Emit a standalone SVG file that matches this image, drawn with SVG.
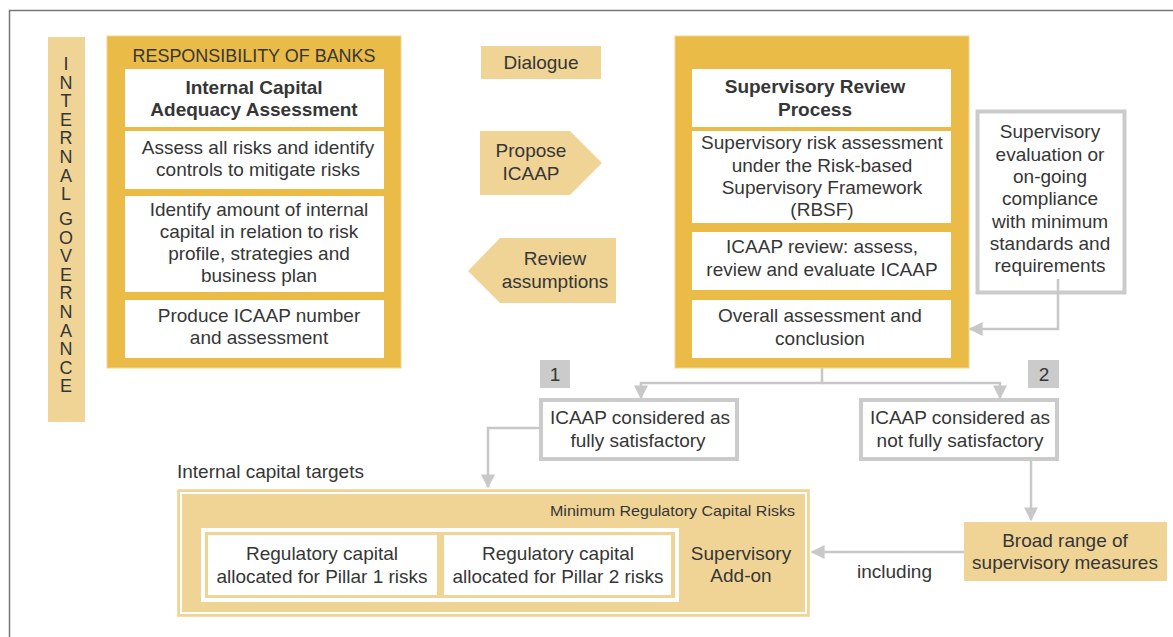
<svg xmlns="http://www.w3.org/2000/svg" width="1173" height="637" viewBox="0 0 1173 637">
<defs>
<style>
text{font-family:"Liberation Sans",Arial,sans-serif;fill:#363636;font-size:19px}
.c{text-anchor:middle}
.b{font-weight:bold}
.vert{writing-mode:vertical-rl;text-orientation:upright;font-size:18px;letter-spacing:-1.4px}
.gold{fill:#EBBB48;stroke:#F3D58E;stroke-width:1}
.light{fill:#EFD496}
.white{fill:#fff}
.gbox{fill:#fff;stroke:#CBCBCB;stroke-width:4}
.badge{fill:#CBCBCB}
.con{fill:none;stroke:#C8C8C8;stroke-width:2.5}
.small{font-size:15px}
</style>
<marker id="ah" viewBox="0 0 10 10" refX="9" refY="5" markerWidth="14" markerHeight="14" markerUnits="userSpaceOnUse" orient="auto">
<path d="M0,0 L10,5 L0,10 z" fill="#C8C8C8"/>
</marker>
</defs>
<rect width="1173" height="637" fill="#fff"/>
<path d="M9.5,637 V10.5 H1173" fill="none" stroke="#777" stroke-width="1.5"/>

<g id="internal-governance">
<rect x="48" y="37" width="37" height="385" class="light"/>
<text class="vert" x="66" y="54">INTERNAL</text>
<text class="vert" x="66" y="209">GOVERNANCE</text>
</g>

<g id="responsibility-of-banks">
<rect x="107" y="36" width="294" height="332" class="gold"/>
<text x="254" y="62" class="c" font-size="18" textLength="243" lengthAdjust="spacingAndGlyphs">RESPONSIBILITY OF BANKS</text>
<rect x="125" y="69" width="259" height="58" class="white"/>
<text x="254" y="94" class="c b">Internal Capital</text>
<text x="254" y="116" class="c b">Adequacy Assessment</text>
<rect x="125" y="131" width="259" height="58" class="white"/>
<text x="258" y="154" class="c">Assess all risks and identify</text>
<text x="258" y="176" class="c">controls to mitigate risks</text>
<rect x="125" y="196" width="259" height="96" class="white"/>
<text x="259" y="216" class="c">Identify amount of internal</text>
<text x="259" y="238" class="c">capital in relation to risk</text>
<text x="259" y="260" class="c">profile, strategies and</text>
<text x="259" y="282" class="c">business plan</text>
<rect x="125" y="300" width="259" height="58" class="white"/>
<text x="259" y="322" class="c">Produce ICAAP number</text>
<text x="259" y="344" class="c">and assessment</text>
</g>

<g id="dialogue">
<rect x="481" y="46" width="120" height="33" class="light"/>
<text x="541" y="69" class="c">Dialogue</text>
</g>

<g id="propose-icaap">
<path d="M480,131 H570 L602,163 L570,195 H480 Z" class="light"/>
<text x="531" y="157" class="c">Propose</text>
<text x="531" y="180" class="c">ICAAP</text>
</g>

<g id="review-assumptions">
<path d="M616,238 H500 L468,271 L500,303 H616 Z" class="light"/>
<text x="555" y="265" class="c">Review</text>
<text x="555" y="288" class="c">assumptions</text>
</g>

<g id="supervisory-review-process">
<rect x="675" y="36" width="294" height="332" class="gold"/>
<rect x="692" y="69" width="259" height="58" class="white"/>
<text x="815" y="93" class="c b">Supervisory Review</text>
<text x="815" y="116" class="c b">Process</text>
<rect x="692" y="131" width="259" height="92" class="white"/>
<text x="822" y="149" class="c">Supervisory risk assessment</text>
<text x="822" y="172" class="c">under the Risk-based</text>
<text x="822" y="194" class="c">Supervisory Framework</text>
<text x="822" y="216" class="c">(RBSF)</text>
<rect x="692" y="232" width="259" height="58" class="white"/>
<text x="822" y="253" class="c">ICAAP review: assess,</text>
<text x="822" y="276" class="c">review and evaluate ICAAP</text>
<rect x="692" y="300" width="259" height="58" class="white"/>
<text x="820" y="322" class="c">Overall assessment and</text>
<text x="820" y="345" class="c">conclusion</text>
</g>

<g id="supervisory-evaluation">
<rect x="977.5" y="111.5" width="147" height="181" class="gbox" stroke-width="3"/>
<text x="1050" y="138" class="c">Supervisory</text>
<text x="1050" y="161" class="c">evaluation or</text>
<text x="1050" y="183" class="c">on-going</text>
<text x="1050" y="205" class="c">compliance</text>
<text x="1050" y="228" class="c">with minimum</text>
<text x="1050" y="250" class="c">standards and</text>
<text x="1050" y="272" class="c">requirements</text>
</g>

<g id="badge-1">
<rect x="540" y="360" width="30" height="28" class="badge"/>
<text x="555" y="381" class="c">1</text>
</g>
<g id="badge-2">
<rect x="1028" y="360" width="31" height="28" class="badge"/>
<text x="1044" y="381" class="c">2</text>
</g>

<g id="fully-satisfactory">
<rect x="541" y="400" width="196" height="59" class="gbox"/>
<text x="640" y="424" class="c">ICAAP considered as</text>
<text x="638" y="447" class="c">fully satisfactory</text>
</g>

<g id="not-fully-satisfactory">
<rect x="861" y="400" width="196" height="59" class="gbox"/>
<text x="960" y="424" class="c">ICAAP considered as</text>
<text x="960" y="447" class="c">not fully satisfactory</text>
</g>

<g id="internal-capital-targets">
<text x="177" y="478">Internal capital targets</text>
<rect x="177.5" y="489.5" width="632" height="127" fill="#EFD496" stroke="#F3DDA8" stroke-width="1"/>
<rect x="181" y="493" width="625" height="120" fill="none" stroke="#fff" stroke-width="2"/>
<text x="795" y="516" class="small" text-anchor="end" textLength="245" lengthAdjust="spacingAndGlyphs">Minimum Regulatory Capital Risks</text>
<rect x="203" y="530" width="474" height="70" fill="none" stroke="#fff" stroke-width="4"/>
<rect x="208" y="535" width="229" height="60" class="white"/>
<text x="322" y="560" class="c">Regulatory capital</text>
<text x="322" y="583" class="c">allocated for Pillar 1 risks</text>
<rect x="444" y="535" width="227" height="60" class="white"/>
<text x="558" y="560" class="c">Regulatory capital</text>
<text x="558" y="583" class="c">allocated for Pillar 2 risks</text>
<text x="741" y="560" class="c">Supervisory</text>
<text x="741" y="582" class="c">Add-on</text>
</g>

<g id="broad-range">
<rect x="964" y="522" width="203" height="59" class="light"/>
<text x="1065" y="547" class="c">Broad range of</text>
<text x="1065" y="569" class="c">supervisory measures</text>
</g>

<g id="connectors">
<path d="M1058,279 V329 H970" class="con" marker-end="url(#ah)"/>
<path d="M822,368 V383 H641 V398" class="con" marker-end="url(#ah)"/>
<path d="M822,383 H1000 V398" class="con" marker-end="url(#ah)"/>
<path d="M539,428 H488 V487" class="con" marker-end="url(#ah)"/>
<path d="M1031,461 V520" class="con" marker-end="url(#ah)"/>
<path d="M964,552 H812" class="con" marker-end="url(#ah)"/>
<text x="857" y="578">including</text>
</g>
</svg>
